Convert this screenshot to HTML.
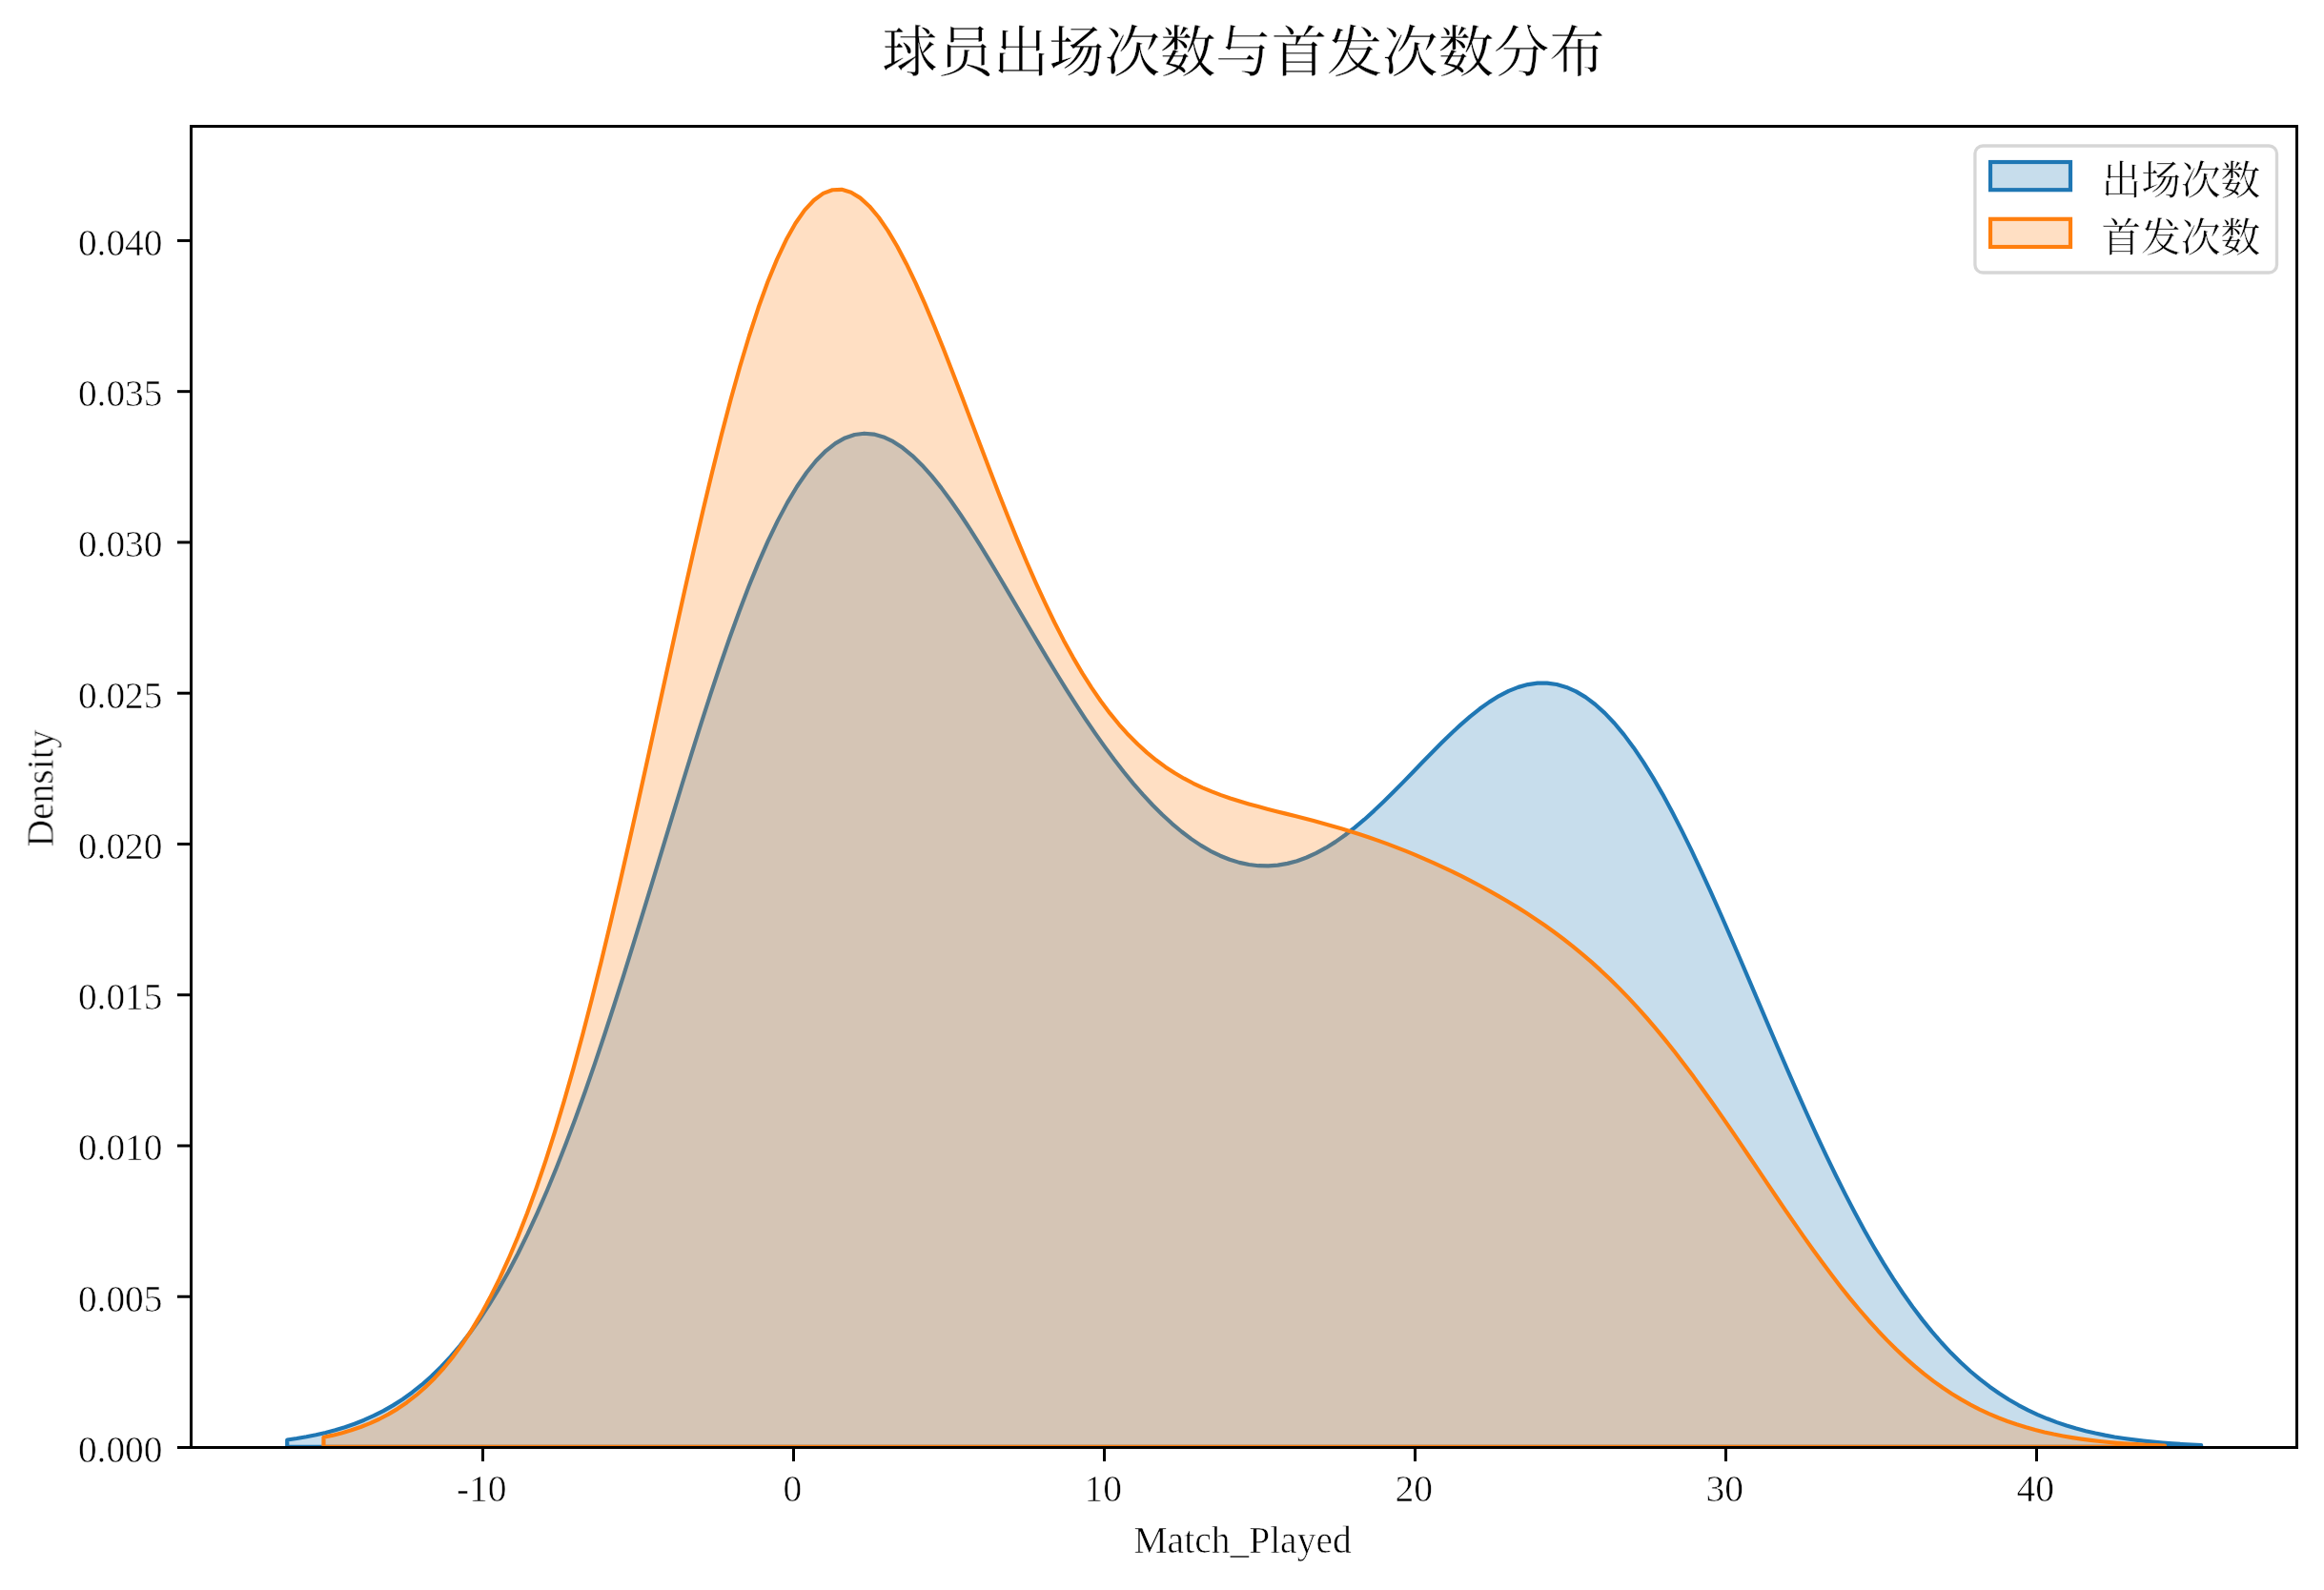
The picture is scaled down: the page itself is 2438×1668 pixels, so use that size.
<!DOCTYPE html>
<html><head><meta charset="utf-8"><title>球员出场次数与首发次数分布</title>
<style>
html,body{margin:0;padding:0;background:#fff;overflow:hidden;}
svg{display:block;}
.lt,.tt,.lg{stroke:#fff;stroke-width:0.6px;}
.tt{stroke-width:0.3px;}
.lt.yl{font-size:40.5px;}
.lg{stroke-width:0.35px;}
.lt{font-family:"Liberation Serif","Noto Serif CJK SC",serif;font-size:39.5px;fill:#000;}
.tt{font-family:"Liberation Serif","Noto Serif CJK SC",serif;font-size:58.33px;fill:#000;}
.lg{font-family:"Liberation Serif","Noto Serif CJK SC",serif;font-size:41.67px;fill:#000;}
</style></head>
<body>
<svg width="2438" height="1668" viewBox="0 0 2438 1668">
<rect x="0" y="0" width="2438" height="1668" fill="#ffffff"/>
<path d="M301.25,1517.9 L301.25,1510.49 L311.34,1509.00 L321.43,1507.26 L331.52,1505.25 L341.61,1502.93 L351.70,1500.26 L361.79,1497.20 L371.88,1493.70 L381.97,1489.72 L392.06,1485.21 L402.15,1480.11 L412.24,1474.37 L422.33,1467.93 L432.42,1460.73 L442.51,1452.71 L452.60,1443.81 L462.69,1433.97 L472.78,1423.13 L482.87,1411.24 L492.96,1398.23 L503.05,1384.06 L513.14,1368.69 L523.23,1352.07 L533.32,1334.17 L543.41,1314.97 L553.50,1294.45 L563.59,1272.62 L573.68,1249.48 L583.77,1225.05 L593.86,1199.36 L603.95,1172.47 L614.04,1144.43 L624.13,1115.32 L634.22,1085.23 L644.31,1054.27 L654.40,1022.55 L664.49,990.22 L674.58,957.42 L684.67,924.30 L694.76,891.03 L704.85,857.79 L714.94,824.75 L725.03,792.12 L735.12,760.06 L745.21,728.78 L755.30,698.47 L765.39,669.30 L775.48,641.44 L785.57,615.08 L795.66,590.35 L805.75,567.41 L815.84,546.38 L825.93,527.37 L836.02,510.47 L846.11,495.76 L856.20,483.27 L866.29,473.06 L876.38,465.11 L886.47,459.43 L896.56,455.98 L906.65,454.71 L916.74,455.55 L926.83,458.42 L936.92,463.21 L947.01,469.81 L957.10,478.09 L967.19,487.92 L977.28,499.15 L987.37,511.63 L997.46,525.22 L1007.55,539.76 L1017.64,555.10 L1027.73,571.09 L1037.82,587.59 L1047.91,604.46 L1058.00,621.57 L1068.09,638.79 L1078.18,656.02 L1088.27,673.15 L1098.36,690.08 L1108.45,706.74 L1118.54,723.03 L1128.63,738.90 L1138.72,754.29 L1148.81,769.14 L1158.90,783.40 L1168.99,797.05 L1179.08,810.03 L1189.17,822.33 L1199.26,833.90 L1209.35,844.74 L1219.44,854.80 L1229.53,864.07 L1239.62,872.52 L1249.71,880.14 L1259.80,886.89 L1269.89,892.76 L1279.98,897.73 L1290.07,901.77 L1300.16,904.87 L1310.24,907.02 L1320.33,908.20 L1330.42,908.41 L1340.51,907.63 L1350.60,905.88 L1360.69,903.17 L1370.78,899.50 L1380.87,894.92 L1390.96,889.45 L1401.05,883.13 L1411.14,876.02 L1421.23,868.18 L1431.32,859.68 L1441.41,850.61 L1451.50,841.05 L1461.59,831.11 L1471.68,820.89 L1481.77,810.50 L1491.86,800.07 L1501.95,789.71 L1512.04,779.56 L1522.13,769.74 L1532.22,760.39 L1542.31,751.62 L1552.40,743.57 L1562.49,736.36 L1572.58,730.10 L1582.67,724.90 L1592.76,720.87 L1602.85,718.08 L1612.94,716.64 L1623.03,716.59 L1633.12,718.01 L1643.21,720.93 L1653.30,725.39 L1663.39,731.41 L1673.48,738.98 L1683.57,748.10 L1693.66,758.74 L1703.75,770.87 L1713.84,784.44 L1723.93,799.39 L1734.02,815.64 L1744.11,833.11 L1754.20,851.72 L1764.29,871.35 L1774.38,891.91 L1784.47,913.28 L1794.56,935.34 L1804.65,957.98 L1814.74,981.08 L1824.83,1004.51 L1834.92,1028.16 L1845.01,1051.90 L1855.10,1075.63 L1865.19,1099.23 L1875.28,1122.59 L1885.37,1145.63 L1895.46,1168.24 L1905.55,1190.35 L1915.64,1211.87 L1925.73,1232.75 L1935.82,1252.91 L1945.91,1272.31 L1956.00,1290.91 L1966.09,1308.67 L1976.18,1325.58 L1986.27,1341.61 L1996.36,1356.75 L2006.45,1371.00 L2016.54,1384.37 L2026.63,1396.86 L2036.72,1408.50 L2046.81,1419.30 L2056.90,1429.30 L2066.99,1438.51 L2077.08,1446.97 L2087.17,1454.72 L2097.26,1461.79 L2107.35,1468.22 L2117.44,1474.05 L2127.53,1479.32 L2137.62,1484.06 L2147.71,1488.32 L2157.80,1492.12 L2167.89,1495.52 L2177.98,1498.53 L2188.07,1501.20 L2198.16,1503.56 L2208.25,1505.63 L2218.34,1507.45 L2228.43,1509.04 L2238.52,1510.42 L2248.61,1511.62 L2258.70,1512.67 L2268.79,1513.56 L2278.88,1514.34 L2288.97,1515.00 L2299.06,1515.56 L2309.15,1516.04 L2309.15,1517.9 Z" fill="#1f77b4" fill-opacity="0.25" stroke="#1f77b4" stroke-width="4.17" stroke-linejoin="round"/>
<path d="M339.49,1517.9 L339.49,1507.75 L349.20,1505.65 L358.90,1503.19 L368.61,1500.33 L378.31,1497.00 L388.02,1493.16 L397.72,1488.73 L407.43,1483.65 L417.14,1477.84 L426.84,1471.22 L436.55,1463.72 L446.25,1455.24 L455.96,1445.70 L465.66,1435.01 L475.37,1423.07 L485.07,1409.80 L494.78,1395.11 L504.49,1378.91 L514.19,1361.12 L523.90,1341.67 L533.60,1320.49 L543.31,1297.53 L553.01,1272.74 L562.72,1246.09 L572.43,1217.57 L582.13,1187.18 L591.84,1154.96 L601.54,1120.94 L611.25,1085.19 L620.95,1047.80 L630.66,1008.90 L640.36,968.61 L650.07,927.10 L659.78,884.55 L669.48,841.18 L679.19,797.22 L688.89,752.90 L698.60,708.49 L708.30,664.28 L718.01,620.54 L727.72,577.57 L737.42,535.67 L747.13,495.14 L756.83,456.25 L766.54,419.30 L776.24,384.54 L785.95,352.23 L795.65,322.58 L805.36,295.81 L815.07,272.09 L824.77,251.55 L834.48,234.30 L844.18,220.43 L853.89,209.96 L863.59,202.90 L873.30,199.22 L883.01,198.85 L892.71,201.69 L902.42,207.61 L912.12,216.45 L921.83,228.02 L931.53,242.11 L941.24,258.49 L950.94,276.93 L960.65,297.17 L970.36,318.96 L980.06,342.02 L989.77,366.09 L999.47,390.93 L1009.18,416.27 L1018.88,441.88 L1028.59,467.54 L1038.30,493.02 L1048.00,518.15 L1057.71,542.74 L1067.41,566.64 L1077.12,589.72 L1086.82,611.86 L1096.53,632.98 L1106.23,653.00 L1115.94,671.88 L1125.65,689.57 L1135.35,706.07 L1145.06,721.37 L1154.76,735.48 L1164.47,748.44 L1174.17,760.29 L1183.88,771.06 L1193.59,780.82 L1203.29,789.63 L1213.00,797.55 L1222.70,804.65 L1232.41,811.01 L1242.11,816.69 L1251.82,821.77 L1261.52,826.32 L1271.23,830.41 L1280.94,834.10 L1290.64,837.45 L1300.35,840.53 L1310.05,843.39 L1319.76,846.09 L1329.46,848.66 L1339.17,851.16 L1348.88,853.61 L1358.58,856.07 L1368.29,858.55 L1377.99,861.09 L1387.70,863.70 L1397.40,866.41 L1407.11,869.23 L1416.81,872.18 L1426.52,875.27 L1436.23,878.49 L1445.93,881.87 L1455.64,885.40 L1465.34,889.08 L1475.05,892.92 L1484.75,896.91 L1494.46,901.06 L1504.17,905.37 L1513.87,909.83 L1523.58,914.45 L1533.28,919.23 L1542.99,924.17 L1552.69,929.28 L1562.40,934.58 L1572.10,940.06 L1581.81,945.74 L1591.52,951.64 L1601.22,957.77 L1610.93,964.16 L1620.63,970.81 L1630.34,977.76 L1640.04,985.02 L1649.75,992.62 L1659.46,1000.58 L1669.16,1008.92 L1678.87,1017.65 L1688.57,1026.80 L1698.28,1036.38 L1707.98,1046.39 L1717.69,1056.85 L1727.39,1067.76 L1737.10,1079.10 L1746.81,1090.87 L1756.51,1103.06 L1766.22,1115.65 L1775.92,1128.60 L1785.63,1141.90 L1795.33,1155.50 L1805.04,1169.35 L1814.75,1183.43 L1824.45,1197.67 L1834.16,1212.03 L1843.86,1226.46 L1853.57,1240.89 L1863.27,1255.27 L1872.98,1269.55 L1882.68,1283.68 L1892.39,1297.59 L1902.10,1311.24 L1911.80,1324.58 L1921.51,1337.57 L1931.21,1350.16 L1940.92,1362.33 L1950.62,1374.03 L1960.33,1385.24 L1970.04,1395.95 L1979.74,1406.12 L1989.45,1415.76 L1999.15,1424.86 L2008.86,1433.41 L2018.56,1441.41 L2028.27,1448.87 L2037.97,1455.81 L2047.68,1462.23 L2057.39,1468.14 L2067.09,1473.58 L2076.80,1478.55 L2086.50,1483.09 L2096.21,1487.21 L2105.91,1490.94 L2115.62,1494.30 L2125.33,1497.32 L2135.03,1500.02 L2144.74,1502.43 L2154.44,1504.57 L2164.15,1506.46 L2173.85,1508.13 L2183.56,1509.60 L2193.26,1510.88 L2202.97,1512.00 L2212.68,1512.98 L2222.38,1513.82 L2232.09,1514.55 L2241.79,1515.17 L2251.50,1515.71 L2261.20,1516.16 L2270.91,1516.55 L2270.91,1517.9 Z" fill="#ff7f0e" fill-opacity="0.25" stroke="#ff7f0e" stroke-width="4.17" stroke-linejoin="round"/>
<rect x="200.5" y="132.5" width="2209.0" height="1386.0" fill="none" stroke="#000" stroke-width="3.0" stroke-linejoin="miter"/>
<line x1="185.92" y1="1518.50" x2="200.5" y2="1518.50" stroke="#000" stroke-width="3.0"/>
<line x1="185.92" y1="1360.24" x2="200.5" y2="1360.24" stroke="#000" stroke-width="3.0"/>
<line x1="185.92" y1="1201.98" x2="200.5" y2="1201.98" stroke="#000" stroke-width="3.0"/>
<line x1="185.92" y1="1043.72" x2="200.5" y2="1043.72" stroke="#000" stroke-width="3.0"/>
<line x1="185.92" y1="885.46" x2="200.5" y2="885.46" stroke="#000" stroke-width="3.0"/>
<line x1="185.92" y1="727.20" x2="200.5" y2="727.20" stroke="#000" stroke-width="3.0"/>
<line x1="185.92" y1="568.94" x2="200.5" y2="568.94" stroke="#000" stroke-width="3.0"/>
<line x1="185.92" y1="410.68" x2="200.5" y2="410.68" stroke="#000" stroke-width="3.0"/>
<line x1="185.92" y1="252.42" x2="200.5" y2="252.42" stroke="#000" stroke-width="3.0"/>
<line x1="506.50" y1="1518.5" x2="506.50" y2="1533.08" stroke="#000" stroke-width="3.0"/>
<line x1="832.50" y1="1518.5" x2="832.50" y2="1533.08" stroke="#000" stroke-width="3.0"/>
<line x1="1158.50" y1="1518.5" x2="1158.50" y2="1533.08" stroke="#000" stroke-width="3.0"/>
<line x1="1484.50" y1="1518.5" x2="1484.50" y2="1533.08" stroke="#000" stroke-width="3.0"/>
<line x1="1810.50" y1="1518.5" x2="1810.50" y2="1533.08" stroke="#000" stroke-width="3.0"/>
<line x1="2136.50" y1="1518.5" x2="2136.50" y2="1533.08" stroke="#000" stroke-width="3.0"/>
<rect x="2071.9" y="153" width="316.6" height="133" rx="8.3" ry="8.3" fill="#ffffff" fill-opacity="0.8" stroke="#cccccc" stroke-opacity="0.8" stroke-width="3.33"/>
<rect x="2088" y="170" width="84" height="29.2" fill="#1f77b4" fill-opacity="0.25" stroke="#1f77b4" stroke-width="4.17"/>
<rect x="2088" y="229.8" width="84" height="29.2" fill="#ff7f0e" fill-opacity="0.25" stroke="#ff7f0e" stroke-width="4.17"/>
<g opacity="0.999">
<text x="170.5" y="1533.90" text-anchor="end" class="lt yl" textLength="88.6" lengthAdjust="spacingAndGlyphs">0.000</text>
<text x="170.5" y="1375.64" text-anchor="end" class="lt yl" textLength="88.6" lengthAdjust="spacingAndGlyphs">0.005</text>
<text x="170.5" y="1217.38" text-anchor="end" class="lt yl" textLength="88.6" lengthAdjust="spacingAndGlyphs">0.010</text>
<text x="170.5" y="1059.12" text-anchor="end" class="lt yl" textLength="88.6" lengthAdjust="spacingAndGlyphs">0.015</text>
<text x="170.5" y="900.86" text-anchor="end" class="lt yl" textLength="88.6" lengthAdjust="spacingAndGlyphs">0.020</text>
<text x="170.5" y="742.60" text-anchor="end" class="lt yl" textLength="88.6" lengthAdjust="spacingAndGlyphs">0.025</text>
<text x="170.5" y="584.34" text-anchor="end" class="lt yl" textLength="88.6" lengthAdjust="spacingAndGlyphs">0.030</text>
<text x="170.5" y="426.08" text-anchor="end" class="lt yl" textLength="88.6" lengthAdjust="spacingAndGlyphs">0.035</text>
<text x="170.5" y="267.82" text-anchor="end" class="lt yl" textLength="88.6" lengthAdjust="spacingAndGlyphs">0.040</text>
<text x="505.30" y="1575.3" text-anchor="middle" class="lt">-10</text>
<text x="831.30" y="1575.3" text-anchor="middle" class="lt">0</text>
<text x="1157.30" y="1575.3" text-anchor="middle" class="lt">10</text>
<text x="1483.30" y="1575.3" text-anchor="middle" class="lt">20</text>
<text x="1809.30" y="1575.3" text-anchor="middle" class="lt">30</text>
<text x="2135.30" y="1575.3" text-anchor="middle" class="lt">40</text>
<text x="1303.6" y="1629.4" text-anchor="middle" class="lt">Match_Played</text>
<text transform="translate(55.6,826.9) rotate(-90)" x="0" y="0" text-anchor="middle" class="lt">Density</text>
<text x="1304.5" y="74.5" text-anchor="middle" class="tt">球员出场次数与首发次数分布</text>
<text x="2204.6" y="203.7" class="lg">出场次数</text>
<text x="2204.6" y="263.5" class="lg">首发次数</text>
</g>
</svg>
</body></html>
